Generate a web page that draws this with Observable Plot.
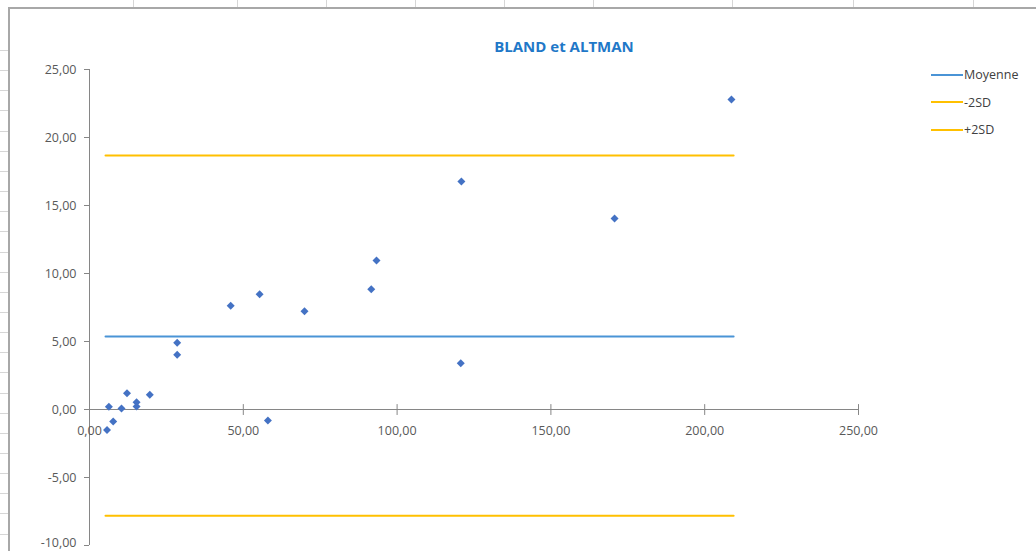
<!DOCTYPE html>
<html>
<head>
<meta charset="utf-8">
<script src="https://cdn.jsdelivr.net/npm/d3@7"></script>
<script src="https://cdn.jsdelivr.net/npm/@observablehq/plot@0.6"></script>
<style>
  html, body { margin: 0; padding: 0; background: #fff; }
  #wrap { position: relative; width: 1036px; height: 551px; overflow: hidden; background: #fff; font-family: "Open Sans", sans-serif; }
  #topstrip { position: absolute; left: 0; top: 0; width: 1036px; height: 8px; }
  #leftstrip { position: absolute; left: 0; top: 0; width: 9px; height: 551px; }
  .vcol { position: absolute; top: 0; width: 1px; height: 8px; background: #d6d6d6; }
  .hrow { position: absolute; left: 0; width: 9px; height: 1px; background: #d6d6d6; }
  #frameTop { position: absolute; left: 8px; top: 7px; width: 1030px; height: 2px; background: #a8a8a8; }
  #frameLeft { position: absolute; left: 8px; top: 7px; width: 2px; height: 560px; background: #a8a8a8; }
  #title { position: absolute; left: 454px; width: 220px; top: 36px; text-align: center; font-weight: bold; font-size: 15px; color: #1f78c8; }
  #legend { position: absolute; left: 931px; top: 61px; font-size: 12.5px; color: #404040; }
  .li { display: flex; align-items: center; height: 27.5px; }
  .li span.sw { display: inline-block; width: 32px; height: 2px; margin-right: 1px; }
  #chart { position: absolute; left: 0; top: 0; }
</style>
</head>
<body>
<div id="wrap">
  <div id="topstrip"></div>
  <div id="leftstrip"></div>
  <div id="chart"></div>
  <div id="frameTop"></div>
  <div id="frameLeft"></div>
  <div id="title">BLAND et ALTMAN</div>
  <div id="legend"></div>
</div>
<script>
// Data
const meanX = [5.7, 6.3, 7.7, 10.4, 12.2, 15.3, 15.3, 19.6, 28.5, 28.5, 45.9, 55.3, 58.0, 69.9, 91.6, 93.3, 120.7, 120.9, 170.7, 208.7];
const diffY = [-1.50, 0.20, -0.88, 0.07, 1.20, 0.54, 0.22, 1.08, 4.90, 4.02, 7.62, 8.48, -0.81, 7.23, 8.85, 10.96, 3.40, 16.76, 14.04, 22.80];
const lineX = [5.2, 209.4];
const meanDiff = 5.37;
const lowerLimit = -7.82;
const upperLimit = 18.68;
const seriesNames = ["Moyenne", "-2SD", "+2SD"];
const seriesColors = ["#4a94d6", "#ffc000", "#ffc000"];
const xTicks = [0, 50, 100, 150, 200, 250];
const yTicks = [-10, -5, 0, 5, 10, 15, 20, 25];

const fmt = d => d3.format(".2f")(d).replace(".", ",").replace("\u2212", "-");

const points = meanX.map((x, i) => ({x, y: diffY[i]}));
const lineData = (val) => lineX.map(x => ({x, y: val}));

// Spreadsheet background gridlines
const colXs = [133, 237, 326, 415, 504, 593, 732, 853, 973];
const topStripEl = document.getElementById("topstrip");
colXs.forEach(x => { const d = document.createElement("div"); d.className = "vcol"; d.style.left = x + "px"; topStripEl.appendChild(d); });
const leftStripEl = document.getElementById("leftstrip");
for (let k = 0; k < 26; k++) { const y = Math.round(50 + 20.15 * k); const d = document.createElement("div"); d.className = "hrow"; d.style.top = y + "px"; leftStripEl.appendChild(d); }

const axisColor = "#868686";
const textColor = "#595959";

const yMin = d3.min(yTicks);

const plot = Plot.plot({
  width: 1036,
  height: 551,
  marginLeft: 89,
  marginRight: 178,
  marginTop: 69,
  marginBottom: 6,
  style: {background: "none", fontFamily: "Open Sans, sans-serif", fontSize: "12.5px", color: textColor, overflow: "visible"},
  x: {domain: [0, 250], axis: null},
  y: {domain: [-10, 25], axis: null},
  marks: [
    // Y axis
    Plot.ruleX([0], {stroke: axisColor}),
    Plot.ruleY(yTicks, {y: d => d, x1: 0, x2: 0, insetLeft: -5, stroke: axisColor}),
    Plot.text(yTicks.filter(d => d !== yMin), {y: d => d, x: 0, dx: -13, textAnchor: "end", text: fmt, fill: textColor}),
    Plot.text([yMin], {y: d => d, x: 0, dx: -13, dy: -3, textAnchor: "end", text: fmt, fill: textColor}),
    // X axis crossing at y = 0
    Plot.ruleY([0], {stroke: axisColor}),
    Plot.ruleX(xTicks.filter(d => d > 0), {x: d => d, y1: 0.36, y2: -0.44, stroke: axisColor}),
    Plot.text(xTicks, {x: d => d, y: 0, dy: 21, text: fmt, fill: textColor}),
    // Limit lines
    Plot.line(lineData(upperLimit), {x: "x", y: "y", stroke: seriesColors[2], strokeWidth: 2}),
    Plot.line(lineData(lowerLimit), {x: "x", y: "y", stroke: seriesColors[1], strokeWidth: 2}),
    Plot.line(lineData(meanDiff), {x: "x", y: "y", stroke: seriesColors[0], strokeWidth: 2}),
    // Points
    Plot.dot(points, {x: "x", y: "y", symbol: "diamond2", r: 3.6, fill: "#4472c4", stroke: "none"})
  ]
});
document.getElementById("chart").appendChild(plot);

// Legend
const leg = document.getElementById("legend");
seriesNames.forEach((n, i) => {
  const row = document.createElement("div");
  row.className = "li";
  const sw = document.createElement("span");
  sw.className = "sw";
  sw.style.background = seriesColors[i];
  row.appendChild(sw);
  row.appendChild(document.createTextNode(n));
  leg.appendChild(row);
});
</script>
</body>
</html>
